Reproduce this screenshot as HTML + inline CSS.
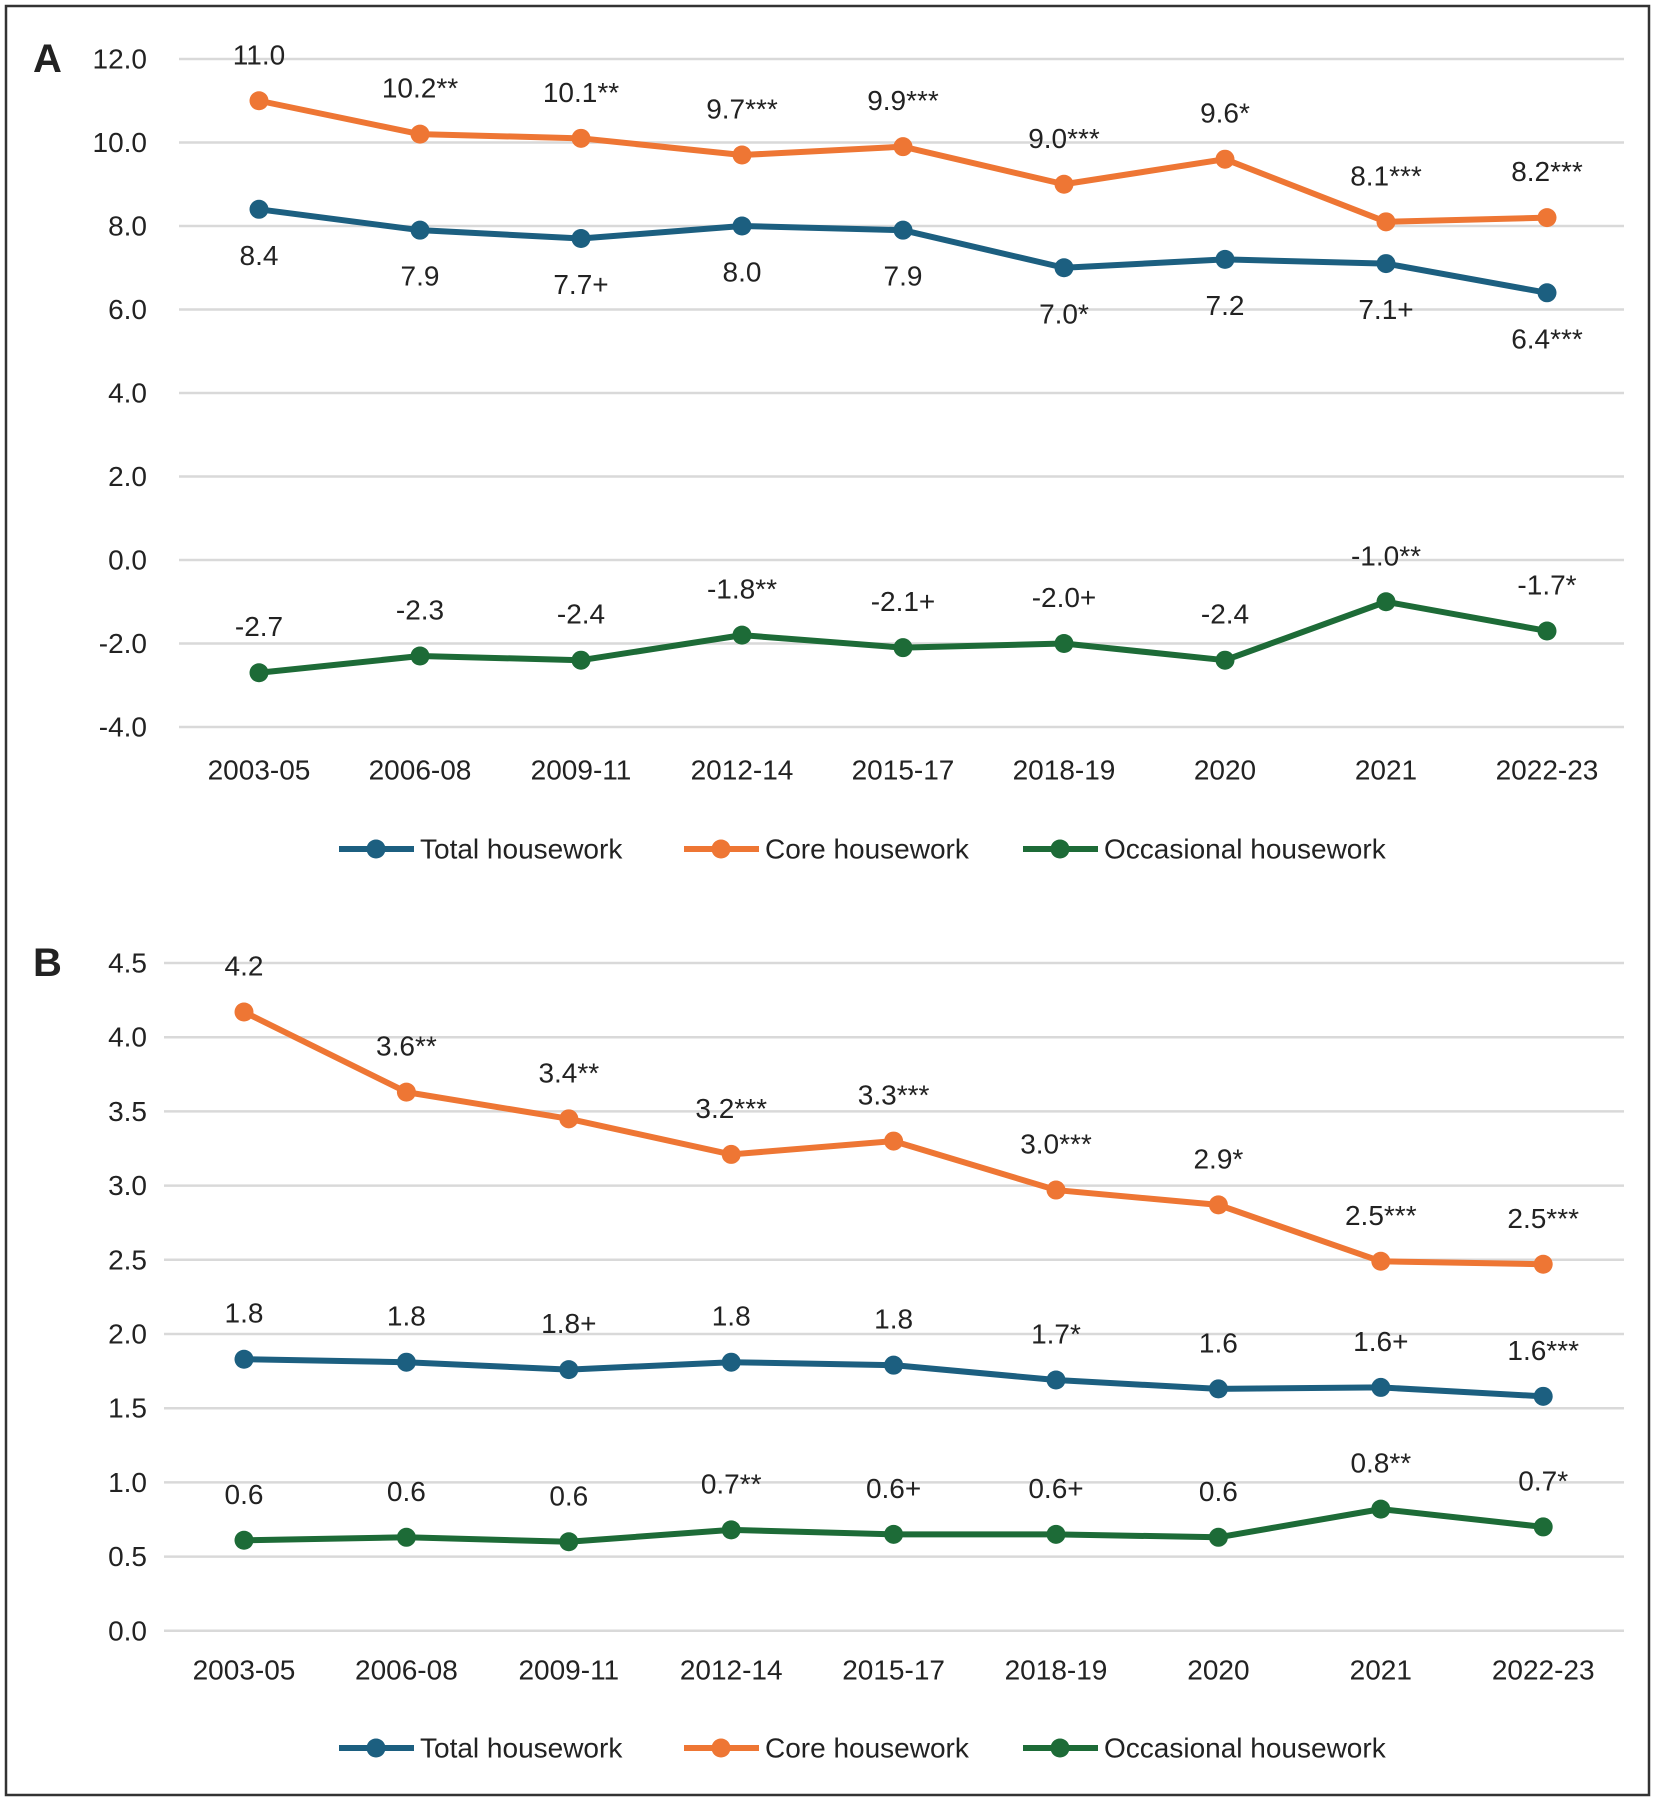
<!DOCTYPE html>
<html><head><meta charset="utf-8"><style>
html,body{margin:0;padding:0;background:#fff;}
svg text{font-family:"Liberation Sans",sans-serif;fill:#222;}
</style></head><body>
<svg id="chart" width="1655" height="1800" viewBox="0 0 1655 1800" xmlns="http://www.w3.org/2000/svg">
<rect x="6" y="6" width="1643" height="1789" fill="#fff" stroke="#333" stroke-width="2.5"/>
</svg>
<script>
const categories = ["2003-05","2006-08","2009-11","2012-14","2015-17","2018-19","2020","2021","2022-23"];
const aTotal = [8.4,7.9,7.7,8.0,7.9,7.0,7.2,7.1,6.4];
const aCore = [11.0,10.2,10.1,9.7,9.9,9.0,9.6,8.1,8.2];
const aOcc = [-2.7,-2.3,-2.4,-1.8,-2.1,-2.0,-2.4,-1.0,-1.7];
const aTotalLbl = ["8.4","7.9","7.7+","8.0","7.9","7.0*","7.2","7.1+","6.4***"];
const aCoreLbl = ["11.0","10.2**","10.1**","9.7***","9.9***","9.0***","9.6*","8.1***","8.2***"];
const aOccLbl = ["-2.7","-2.3","-2.4","-1.8**","-2.1+","-2.0+","-2.4","-1.0**","-1.7*"];
const aTicks = [12,10,8,6,4,2,0,-2,-4];
const bTotal = [1.83,1.81,1.76,1.81,1.79,1.69,1.63,1.64,1.58];
const bCore = [4.17,3.63,3.45,3.21,3.30,2.97,2.87,2.49,2.47];
const bOcc = [0.61,0.63,0.60,0.68,0.65,0.65,0.63,0.82,0.70];
const bTotalLbl = ["1.8","1.8","1.8+","1.8","1.8","1.7*","1.6","1.6+","1.6***"];
const bCoreLbl = ["4.2","3.6**","3.4**","3.2***","3.3***","3.0***","2.9*","2.5***","2.5***"];
const bOccLbl = ["0.6","0.6","0.6","0.7**","0.6+","0.6+","0.6","0.8**","0.7*"];
const bTicks = [4.5,4.0,3.5,3.0,2.5,2.0,1.5,1.0,0.5,0.0];

const NS="http://www.w3.org/2000/svg";
const svg=document.getElementById('chart');
const COL={total:"#1c5f80",core:"#ee7634",occ:"#1d6b37"};
const FS=28;
function mk(tag,attrs,parent){const e=document.createElementNS(NS,tag);for(const k in attrs)e.setAttribute(k,attrs[k]);(parent||svg).appendChild(e);return e;}

function panel(p){
  const g=mk('g',{});
  
  
  const y=v=>p.y0+(p.vmax-v)*p.ppu;
  const x=i=>p.x0+i*p.dx;
  p.ticks.forEach(t=>{
    const l=mk('line',{x1:p.gx0,x2:1624,y1:y(t),y2:y(t),stroke:"#d9d9d9","stroke-width":2.5},g);
    
    
    const tx=mk('text',{x:147,y:y(t),"text-anchor":"end","dominant-baseline":"central","font-size":FS},g);
    tx.textContent=t.toFixed(1);
    
    
  });
  categories.forEach((c,i)=>{
    const tx=mk('text',{x:x(i),y:p.xly,"text-anchor":"middle","dominant-baseline":"central","font-size":FS},g);
    tx.textContent=c;
    
    
  });
  p.series.forEach(s=>{
    const pts=s.vals.map((v,i)=>x(i)+","+y(v)).join(" ");
    const pl=mk('polyline',{points:pts,fill:"none",stroke:s.col,"stroke-width":6,"stroke-linejoin":"round"},g);
    
    
    s.vals.forEach((v,i)=>{
      const c=mk('circle',{cx:x(i),cy:y(v),r:9.5,fill:s.col},g);
      
      
      const t=mk('text',{x:x(i),y:y(v)+s.off,"text-anchor":"middle","dominant-baseline":"central","font-size":FS},g);
      t.textContent=s.lbl[i];
      
      
    });
  });
  const L=mk('text',{x:33,y:p.y0+13,"font-size":40,"font-weight":"bold"},g);
  L.textContent=p.id;
  
  
  const leg=[["Total housework",COL.total,339],["Core housework",COL.core,684],["Occasional housework",COL.occ,1023]];
  leg.forEach(([n,c,lx])=>{
    const lg=mk('g',{},g);
    
    
    mk('line',{x1:lx,x2:lx+75,y1:p.legy,y2:p.legy,stroke:c,"stroke-width":6},lg);
    mk('circle',{cx:lx+37,cy:p.legy,r:9.5,fill:c},lg);
    const t=mk('text',{x:lx+81,y:p.legy,"dominant-baseline":"central","font-size":FS},lg);
    t.textContent=n;
  });
}
panel({id:"A",y0:59,vmax:12,ppu:41.75,x0:259,dx:161,gx0:179,ticks:aTicks,xly:770,legy:849,
  series:[{name:"total-housework",vals:aTotal,lbl:aTotalLbl,col:COL.total,off:46},
          {name:"core-housework",vals:aCore,lbl:aCoreLbl,col:COL.core,off:-46},
          {name:"occasional-housework",vals:aOcc,lbl:aOccLbl,col:COL.occ,off:-46}]});
panel({id:"B",y0:963,vmax:4.5,ppu:148.4,x0:244,dx:162.4,gx0:164,ticks:bTicks,xly:1670,legy:1748,
  series:[{name:"total-housework",vals:bTotal,lbl:bTotalLbl,col:COL.total,off:-46},
          {name:"core-housework",vals:bCore,lbl:bCoreLbl,col:COL.core,off:-46},
          {name:"occasional-housework",vals:bOcc,lbl:bOccLbl,col:COL.occ,off:-46}]});
</script>
</body></html>
